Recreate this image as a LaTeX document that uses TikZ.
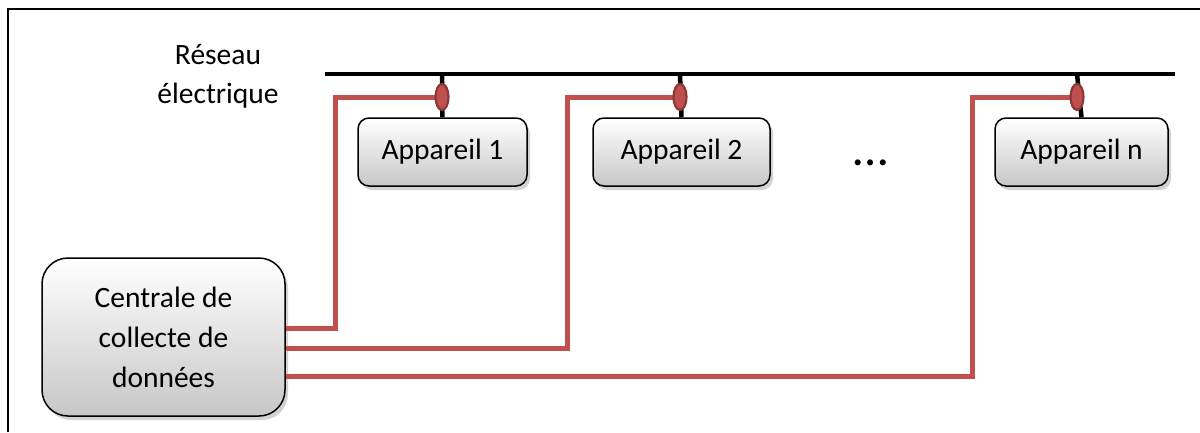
\documentclass[tikz,border=0pt]{standalone}
\usepackage{fontspec}
\setmainfont{Carlito}
\usetikzlibrary{shadows,shapes.geometric}
\definecolor{wire}{HTML}{C0504D}
\definecolor{wiredark}{HTML}{8C3836}
\begin{document}
\begin{tikzpicture}[x=1pt,y=-1pt,
  box/.style={draw=black, line width=1.5pt, rounded corners=11pt, top color=white, bottom color=black!22,
     minimum height=68pt, inner sep=0pt, font=\fontsize{29.5}{40}\selectfont,
     drop shadow={shadow xshift=3pt, shadow yshift=-4pt, opacity=0.35}},
  bigbox/.style={box, rounded corners=26pt, align=center},
  bus/.style={line width=4.5pt, black},
  sig/.style={line width=5pt, wire},
  tap/.style={ellipse, draw=wiredark, fill=wire, line width=2.2pt, minimum width=13pt, minimum height=26pt, inner sep=0pt},
  lbl/.style={font=\fontsize{29.5}{39}\selectfont, align=center}
]
\useasboundingbox (0,0) rectangle (1200,432);
\draw[line width=2pt] (8,432) -- (8,9) -- (1200,9);

\coordinate (busL) at (325,74);
\coordinate (busR) at (1175,74);
\coordinate (t1) at (442,97);
\coordinate (t2) at (680,97);
\coordinate (t3) at (1077,97);

\node[box, minimum width=169pt] (a1) at (442.5,152) {Appareil 1};
\node[box, minimum width=177pt] (a2) at (681.5,152) {Appareil 2};
\node[box, minimum width=173pt] (an) at (1081.5,152) {Appareil n};
\node[bigbox, minimum width=243pt, minimum height=158pt] (c) at (163.5,337) {Centrale de\\collecte de\\données};

\node[lbl] (res) at (218,76) {Réseau\\électrique};
\node[font=\fontsize{50}{50}\selectfont, anchor=base, inner sep=0pt] (dots) at (871,165) {…};

\draw[bus] (busL) -- (busR);
\draw[bus] (t1 |- busL) -- (a1.north);
\draw[bus] (t2 |- busL) -- (a2.north);
\draw[bus] (t3 |- busL) -- (an.north);

\draw[sig] ([yshift=9pt]c.east) -- ++(50,0) |- (t1);
\draw[sig] ([yshift=-11pt]c.east) -- ++(282,0) |- (t2);
\draw[sig] ([yshift=-39pt]c.east) -- ++(687,0) |- (t3);

\node[tap] (e1) at (t1) {};
\node[tap] (e2) at (t2) {};
\node[tap] (e3) at (t3) {};
\end{tikzpicture}
\end{document}
